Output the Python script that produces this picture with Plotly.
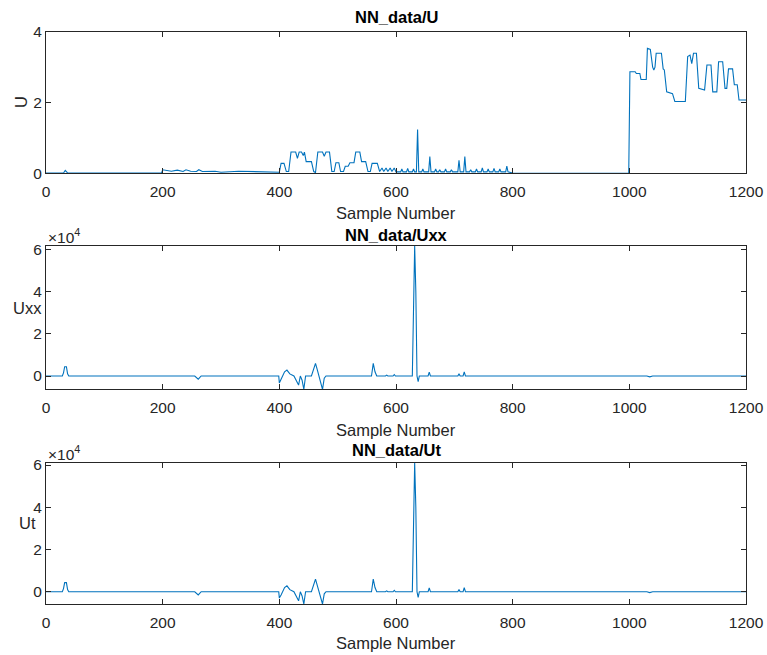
import plotly.graph_objects as go

# ---------------- data (breakpoints) ----------------
U_x = [0, 30, 33, 37, 198, 200, 215, 225, 235, 240, 248, 258, 262, 268, 290, 300, 330, 360, 380, 399,
       400, 403, 408, 412, 416, 420, 428, 431, 434, 438, 441, 443, 446, 455, 459, 462, 466, 474, 477, 480,
       486, 490, 494, 497, 502, 505, 510, 513, 518, 521, 528, 531, 538, 541, 548, 552, 556, 559, 568, 572,
       576, 579, 583, 586, 590, 593, 597, 600,
       608, 610, 612, 618, 620, 622, 628, 630, 632, 635, 637, 639, 644, 646, 648, 656, 658, 660, 666, 668,
       670, 673, 675, 677, 683, 685, 687, 693, 695, 697, 706, 708, 710, 716, 718, 720, 726, 728, 730, 736,
       738, 740, 746, 748, 750, 756, 758, 760, 766, 768, 770, 776, 778, 780, 788, 790, 792, 800,
       999, 1001, 1010, 1012, 1018, 1020, 1029, 1031, 1036, 1040, 1042, 1044, 1046, 1055, 1058, 1060,
       1064, 1074, 1078, 1096, 1100, 1104, 1107, 1110, 1115, 1119, 1129, 1133, 1140, 1143, 1150, 1153,
       1160, 1164, 1167, 1170, 1177, 1180, 1185, 1188, 1200]
U_y = [0.01, 0.01, 0.08, 0.01, 0.01, 0.1, 0.06, 0.09, 0.05, 0.1, 0.06, 0.05, 0.1, 0.05, 0.06, 0.03, 0.06, 0.05, 0.04, 0.03,
       0.03, 0.28, 0.28, 0.05, 0.05, 0.6, 0.6, 0.42, 0.6, 0.6, 0.5, 0.6, 0.33, 0.33, 0.05, 0.02, 0.6, 0.6, 0.48, 0.6,
       0.6, 0.05, 0.05, 0.3, 0.3, 0.05, 0.05, 0.2, 0.2, 0.3, 0.3, 0.6, 0.6, 0.33, 0.33, 0.05, 0.05, 0.28, 0.28, 0.05,
       0.15, 0.05, 0.15, 0.05, 0.15, 0.05, 0.15, 0.04,
       0.04, 0.12, 0.04, 0.04, 0.14, 0.04, 0.04, 0.12, 0.04, 0.04, 1.24, 0.04, 0.04, 0.12, 0.04, 0.04, 0.47, 0.04, 0.04, 0.12,
       0.04, 0.04, 0.1, 0.04, 0.04, 0.12, 0.04, 0.04, 0.1, 0.04, 0.04, 0.37, 0.04, 0.04, 0.47, 0.04, 0.04, 0.1, 0.04, 0.04,
       0.12, 0.04, 0.04, 0.15, 0.04, 0.04, 0.12, 0.04, 0.04, 0.14, 0.04, 0.04, 0.12, 0.04, 0.04, 0.2, 0.04, 0.01,
       0.0, 2.87, 2.87, 2.82, 2.82, 2.65, 2.65, 3.53, 3.5, 3.0, 2.92, 3.0, 3.39, 3.39, 2.95, 2.92,
       2.3, 2.25, 2.03, 2.03, 3.3, 3.34, 3.1, 3.39, 3.39, 2.4, 2.35, 3.06, 3.06, 2.3, 2.3, 3.15,
       3.15, 2.4, 2.4, 2.95, 2.95, 2.5, 2.5, 2.07, 2.07]

Uxx_x = [0, 28, 30, 32, 35, 37, 39, 255, 261, 266, 399, 400, 403, 409, 413, 418, 425, 430, 433, 436,
         439, 442, 445, 455, 459, 462, 465, 468, 471, 474, 477, 480, 558, 561, 564, 567, 582, 584, 586, 595,
         597, 599, 628, 630, 632, 634, 636, 638, 640, 655, 657, 659, 706, 708, 710, 715, 717, 719, 1030, 1035,
         1040, 1200]
Uxx_y = [0, 0, 1500, 4400, 4400, 1000, 0, 0, -1500, 0, 0, -3300, -1500, 2000, 2800, 1000, 0, -3000, -4300, 0,
         -2000, -6300, 0, 0, 3000, 6000, 3000, 0, -3000, -6300, -1000, 0, 0, 6000, 2000, 0, 0, 400, 0, 0,
         700, 0, 0, 40000, 61600, 40000, 0, -2700, 0, 0, 1800, 0, 0, 1000, 0, 0, 2000, 0, 0, -400,
         0, 0]

Ut_x = [0, 28, 30, 32, 35, 37, 39, 255, 261, 266, 399, 400, 403, 409, 413, 418, 425, 430, 433, 436,
        439, 442, 445, 455, 459, 462, 465, 468, 471, 474, 477, 480, 558, 561, 564, 567, 582, 584, 586, 595,
        597, 599, 628, 630, 632, 634, 636, 638, 640, 655, 657, 659, 706, 708, 710, 715, 717, 719, 1030, 1035,
        1040, 1200]
Ut_y = [0, 0, 1500, 4300, 4300, 1000, 0, 0, -1500, 0, 0, -3000, -1500, 2000, 2800, 1000, 0, -3000, -4300, 0,
        -2000, -5800, 0, 0, 3000, 6000, 3000, 0, -3000, -5800, -1000, 0, 0, 6000, 2000, 0, 0, 400, 0, 0,
        700, 0, 0, 40000, 61100, 40000, 0, -2700, 0, 0, 1800, 0, 0, 1000, 0, 0, 2000, 0, 0, -400,
        0, 0]

x_ticks = [0, 200, 400, 600, 800, 1000, 1200]
u_ticks = [0, 2, 4]
e4_ticks = [0, 20000, 40000, 60000]
e4_ticktext = ["0", "2", "4", "6"]
titles = ["NN_data/U", "NN_data/Uxx", "NN_data/Ut"]
ylabels = ["U", "Uxx", "Ut"]

# ---------------- figure ----------------
W, H = 767, 655
LINE = "#0072BD"
AX = "#262626"
FONT = "Liberation Sans, Arial, sans-serif"

fig = go.Figure()
fig.add_trace(go.Scatter(x=U_x, y=U_y, mode="lines", line=dict(color=LINE, width=1.1), xaxis="x", yaxis="y"))
fig.add_trace(go.Scatter(x=Uxx_x, y=Uxx_y, mode="lines", line=dict(color=LINE, width=1.1), xaxis="x2", yaxis="y2"))
fig.add_trace(go.Scatter(x=Ut_x, y=Ut_y, mode="lines", line=dict(color=LINE, width=1.1), xaxis="x3", yaxis="y3"))

xdom = [46 / W, 746 / W]
# (top px, bottom px) of each axes box
boxes = [(31.7, 173.3), (246.0, 389.3), (462.7, 604.0)]
yranges = [[0, 4], [-6300, 61600], [-5800, 61100]]

def fy(py):
    return 1 - py / H

axcommon = dict(showline=True, linecolor=AX, linewidth=1, mirror="ticks", ticks="inside",
                ticklen=5, tickcolor=AX, showgrid=False, zeroline=False, automargin=False,
                tickfont=dict(family=FONT, size=15.5, color=AX))

layout = dict(width=W, height=H, margin=dict(l=0, r=0, t=0, b=0, autoexpand=False),
              template="none",
              paper_bgcolor="white", plot_bgcolor="white", showlegend=False)

for i, (top, bot) in enumerate(boxes):
    sx = "" if i == 0 else str(i + 1)
    xa = dict(axcommon, domain=xdom, range=[0, 1200], tickvals=x_ticks,
              anchor="y" + sx, ticklabelstandoff=4)
    ya = dict(axcommon, domain=[fy(bot), fy(top)], range=yranges[i], anchor="x" + sx)
    if i == 0:
        ya["tickvals"] = u_ticks
    else:
        ya["tickvals"] = e4_ticks
        ya["ticktext"] = e4_ticktext
    layout["xaxis" + sx] = xa
    layout["yaxis" + sx] = ya

fig.update_layout(**layout)

ann = []
title_y = [17.5, 235, 450]
xlab_y = [213, 430, 643]
for i in range(3):
    ann.append(dict(text="<b>" + titles[i] + "</b>", x=396 / W, y=fy(title_y[i]), xref="paper", yref="paper",
                    showarrow=False, xanchor="center", yanchor="middle",
                    font=dict(family=FONT, size=16.5, color="black")))
    ann.append(dict(text="Sample Number", x=396 / W, y=fy(xlab_y[i]), xref="paper", yref="paper",
                    showarrow=False, xanchor="center", yanchor="middle",
                    font=dict(family=FONT, size=16.5, color=AX)))
# y labels
ann.append(dict(text=ylabels[0], x=21 / W, y=fy(102), xref="paper", yref="paper", showarrow=False,
                textangle=-90, xanchor="center", yanchor="middle", font=dict(family=FONT, size=16.5, color=AX)))
ann.append(dict(text=ylabels[1], x=28 / W, y=fy(308), xref="paper", yref="paper", showarrow=False,
                xanchor="center", yanchor="middle", font=dict(family=FONT, size=16.5, color=AX)))
ann.append(dict(text=ylabels[2], x=28 / W, y=fy(523), xref="paper", yref="paper", showarrow=False,
                xanchor="center", yanchor="middle", font=dict(family=FONT, size=16.5, color=AX)))
# exponent labels
for yy in [236.5, 452.5]:
    ann.append(dict(text="×10<sup>4</sup>", x=46 / W, y=fy(yy), xref="paper", yref="paper", showarrow=False,
                    xanchor="left", yanchor="middle", font=dict(family=FONT, size=15.5, color=AX)))
fig.update_layout(annotations=ann)

fig.write_html("out.html")
